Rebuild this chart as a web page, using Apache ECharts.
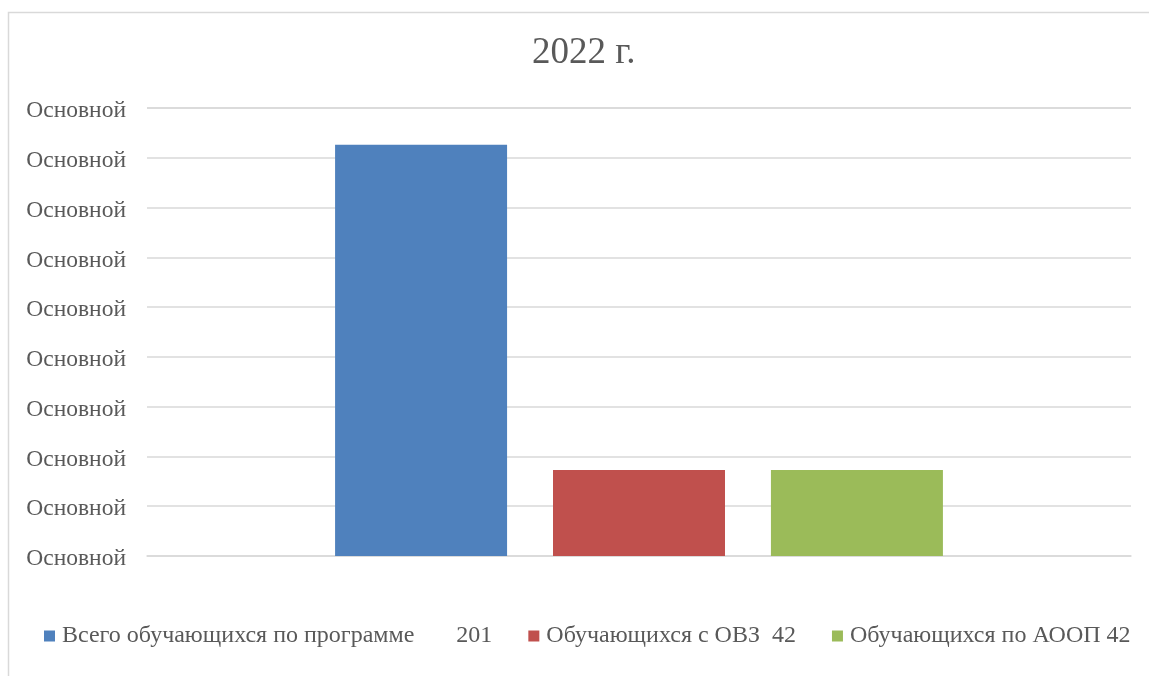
<!DOCTYPE html>
<html>
<head>
<meta charset="utf-8">
<script src="https://cdn.jsdelivr.net/npm/echarts@6/dist/echarts.min.js"></script>
<style>html,body{margin:0;padding:0;background:#fff}#c{width:1149px;height:676px}</style>
</head>
<body>
<div id="c"></div>
<script>
const categories = ['2022 г.'];
const seriesNames = ['Всего обучающихся по программе       201', 'Обучающихся с ОВЗ  42', 'Обучающихся по АООП 42'];
const seriesValues = [[201], [42], [42]];
const seriesColors = ['#4f81bd', '#c0504d', '#9bbb59'];
const yTickLabel = 'Основной';

const font = '"Liberation Serif", "Times New Roman", serif';
const chart = echarts.init(document.getElementById('c'));
chart.setOption({
  animation: false,
  title: { text: categories[0], left: 532, top: 35, padding: 0, textStyle: { fontFamily: font, fontSize: 37, fontWeight: 'normal', color: '#595959' } },
  graphic: [{ type: 'rect', shape: { x: 8.5, y: 12.5, width: 1160, height: 700 }, style: { fill: 'none', stroke: '#d9d9d9', lineWidth: 1.5 }, silent: true }],
  legend: {
    left: 44, top: 624, padding: 0, itemWidth: 11, itemHeight: 11, itemGap: 36, icon: 'rect',
    textStyle: { fontFamily: font, fontSize: 24, color: '#595959', padding: [0, 0, 0, 2] },
    data: seriesNames
  },
  grid: { left: 147, right: 18, top: 108, bottom: 120, containLabel: false },
  xAxis: { type: 'category', data: categories, axisLine: { lineStyle: { color: '#d9d9d9', width: 1.5 } }, axisTick: { show: false }, axisLabel: { show: false } },
  yAxis: {
    type: 'value', min: 0, max: 219, interval: 24.333333,
    axisLine: { show: false }, axisTick: { show: false },
    splitLine: { lineStyle: { color: '#d9d9d9', width: 1.5 } },
    axisLabel: {
      formatter: () => '{a|' + yTickLabel + '}', margin: 21,
      rich: { a: { fontFamily: font, fontSize: 23.5, color: '#595959', padding: [6, 0, 0, 0] } }
    }
  },
  series: seriesNames.map((n, i) => ({
    name: n, type: 'bar', data: seriesValues[i], barWidth: 172, barGap: '26.7%',
    itemStyle: { color: seriesColors[i] }
  }))
});
</script>
</body>
</html>
